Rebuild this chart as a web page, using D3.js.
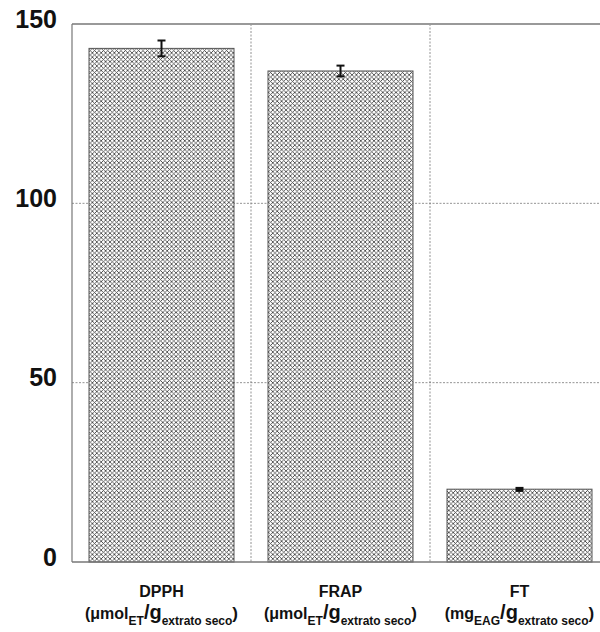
<!DOCTYPE html>
<html><head><meta charset="utf-8">
<script src="https://cdn.jsdelivr.net/npm/d3@7"></script>
<style>body{margin:0;background:#fff}svg{display:block}</style>
</head><body>
<svg id="c" width="600" height="632"></svg>
<script>
const categories = ["DPPH","FRAP","FT"];
const values = [143.2, 136.9, 20.3];
const errors = [2.2, 1.5, 0.5];
const unitMain = ["(μmol","(μmol","(mg"];
const unitSub1 = ["ET","ET","EAG"];
const unitSub2 = ["extrato seco","extrato seco","extrato seco"];
const yTicks = [0,50,100,150];

const svg = d3.select("#c");
const m = {l:72, t:24, b:562, r:609};
const x = d3.scaleBand().domain(categories).range([m.l, m.r]).paddingInner(0).paddingOuter(0);
const y = d3.scaleLinear().domain([0,150]).range([m.b, m.t]);

const defs = svg.append("defs");
const P = 4.4;
const pat = defs.append("pattern").attr("id","hatch").attr("patternUnits","userSpaceOnUse")
  .attr("width",P).attr("height",P);
pat.append("rect").attr("width",P).attr("height",P).attr("fill","#fff");
pat.append("path").attr("d",`M0,0L${P},${P}M${P},0L0,${P}M-1,1L1,-1M${P-1},${P+1}L${P+1},${P-1}M-1,${P-1}L1,${P+1}M${P-1},-1L${P+1},1`)
  .attr("stroke","#3a3a3a").attr("stroke-width",0.8);

// gridlines
svg.append("g").selectAll("line").data(yTicks.filter(d=>d>0&&d<150)).join("line")
  .attr("x1",m.l).attr("x2",600).attr("y1",d=>y(d)).attr("y2",d=>y(d))
  .attr("stroke","#777").attr("stroke-width",0.8).attr("stroke-dasharray","2,1.5");
// category separators
svg.append("g").selectAll("line").data(categories.slice(1)).join("line")
  .attr("x1",d=>x(d)).attr("x2",d=>x(d)).attr("y1",m.t).attr("y2",m.b)
  .attr("stroke","#777").attr("stroke-width",0.8).attr("stroke-dasharray","2,1.5");

// bars
const inset = 17;
svg.append("g").selectAll("rect").data(categories).join("rect")
  .attr("x",d=>x(d)+inset).attr("width",x.bandwidth()-2*inset)
  .attr("y",(d,i)=>y(values[i])).attr("height",(d,i)=>y(0)-y(values[i]))
  .attr("fill","url(#hatch)").attr("stroke","#555").attr("stroke-width",1);

// error bars
const eb = svg.append("g").attr("stroke","#111").attr("stroke-width",2);
categories.forEach((c,i)=>{
  const cx = x(c)+x.bandwidth()/2;
  const y1=y(values[i]+errors[i]), y2=y(values[i]-errors[i]);
  if (errors[i] < 1) {
    eb.append("rect").attr("x",cx-4).attr("y",y1-0.5).attr("width",8).attr("height",Math.max(5,y2-y1)).attr("fill","#111").attr("stroke","none");
  } else {
    eb.append("line").attr("x1",cx).attr("x2",cx).attr("y1",y1).attr("y2",y2);
    eb.append("line").attr("x1",cx-4).attr("x2",cx+4).attr("y1",y1).attr("y2",y1);
    eb.append("line").attr("x1",cx-4).attr("x2",cx+4).attr("y1",y2).attr("y2",y2);
  }
});

// frame
svg.append("line").attr("x1",m.l).attr("x2",600).attr("y1",m.t).attr("y2",m.t).attr("stroke","#999").attr("stroke-width",2);
svg.append("line").attr("x1",m.l).attr("x2",600).attr("y1",m.b).attr("y2",m.b).attr("stroke","#777").attr("stroke-width",1.5);
svg.append("line").attr("x1",m.l).attr("x2",m.l).attr("y1",m.t).attr("y2",m.b).attr("stroke","#777").attr("stroke-width",1.2);

// y tick labels
svg.append("g").selectAll("text").data(yTicks).join("text")
  .attr("x",57).attr("y",d=>y(d)-3).attr("text-anchor","end").attr("dominant-baseline","middle")
  .attr("font-family","Liberation Sans, Arial, sans-serif").attr("font-weight","bold").attr("font-size",25)
  .attr("fill","#111").text(d=>d);

// category labels
const lab = svg.append("g").attr("font-family","Liberation Sans, Arial, sans-serif").attr("font-weight","bold").attr("fill","#111");
categories.forEach((c,i)=>{
  const cx = x(c)+x.bandwidth()/2;
  lab.append("text").attr("x",cx).attr("y",597).attr("text-anchor","middle").attr("font-size",16).text(c);
  const t = lab.append("text").attr("x",cx).attr("y",619).attr("text-anchor","middle").attr("font-size",16);
  t.append("tspan").text(unitMain[i]);
  t.append("tspan").attr("dy",6).attr("font-size",12).text(unitSub1[i]);
  t.append("tspan").attr("dy",-6).attr("font-size",20).text("/g");
  t.append("tspan").attr("dy",6).attr("font-size",12).text(unitSub2[i]);
  t.append("tspan").attr("dy",-6).attr("font-size",17).text(")");
});
</script>
</body></html>
